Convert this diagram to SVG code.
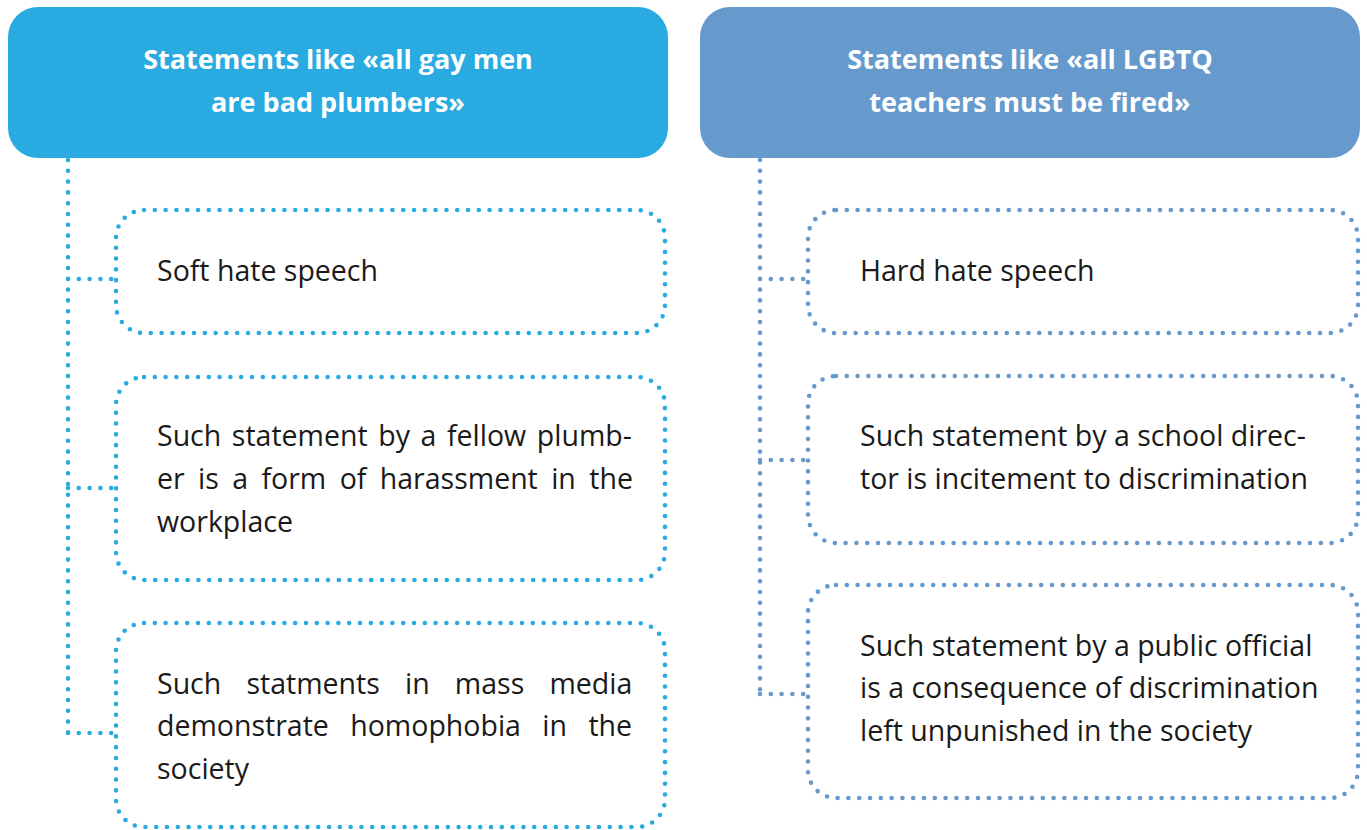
<svg xmlns="http://www.w3.org/2000/svg" width="1367" height="830" viewBox="0 0 1367 830">
<style>
.bg{fill:#ffffff}
.hdr-a{fill:#29ABE2}
.hdr-b{fill:#6699CC}
.htxt{font-family:"Open Sans","Noto Sans","DejaVu Sans",sans-serif;font-weight:700;font-size:27px;fill:#ffffff;text-anchor:middle}
.btxt{font-family:"Open Sans","Noto Sans","DejaVu Sans",sans-serif;font-size:28.5px;fill:#1a1a1a}
.dot{fill:none;stroke-width:4.6;stroke-linecap:round;stroke-dasharray:0 10.8}
.dot-a{stroke:#29ABE2}
.dot-b{stroke:#6699CC}
</style>
<rect class="bg" x="0" y="0" width="1367" height="830"/>

<g id="connectors">
  <path class="dot dot-a" d="M68 160 V733 M68 279 H114 M68 488 H114 M68 733 H114"/>
  <path class="dot dot-b" d="M760 160 V694 M760 279 H806 M760 460 H806 M760 694 H806"/>
</g>

<g id="header-left">
  <rect class="hdr-a" x="8" y="7" width="660" height="151" rx="30" ry="30"/>
  <text class="htxt"><tspan x="338" y="69">Statements like «all gay men</tspan><tspan x="338" y="112">are bad plumbers»</tspan></text>
</g>

<g id="header-right">
  <rect class="hdr-b" x="700" y="7" width="660" height="151" rx="30" ry="30"/>
  <text class="htxt"><tspan x="1030" y="69">Statements like «all LGBTQ</tspan><tspan x="1030" y="112">teachers must be fired»</tspan></text>
</g>

<g id="node-soft">
  <rect class="dot dot-a" x="116" y="210" width="549" height="123" rx="28" ry="28"/>
  <text class="btxt" x="157" y="281">Soft hate speech</text>
</g>

<g id="node-plumber">
  <rect class="dot dot-a" x="116" y="377" width="549" height="203" rx="28" ry="28"/>
  <text class="btxt"><tspan x="157" y="446" word-spacing="3.2">Such statement by a fellow plumb-</tspan><tspan x="157" y="489" word-spacing="6">er is a form of harassment in the</tspan><tspan x="157" y="532">workplace</tspan></text>
</g>

<g id="node-media">
  <rect class="dot dot-a" x="116" y="623" width="549" height="204" rx="28" ry="28"/>
  <text class="btxt"><tspan x="157" y="694" word-spacing="17.8">Such statments in mass media</tspan><tspan x="157" y="736" word-spacing="14">demonstrate homophobia in the</tspan><tspan x="157" y="779">society</tspan></text>
</g>

<g id="node-hard">
  <rect class="dot dot-b" x="808" y="210" width="550" height="123" rx="28" ry="28"/>
  <text class="btxt" x="860" y="281">Hard hate speech</text>
</g>

<g id="node-director">
  <rect class="dot dot-b" x="808" y="376" width="550" height="167" rx="28" ry="28"/>
  <text class="btxt"><tspan x="860" y="446">Such statement by a school direc-</tspan><tspan x="860" y="489">tor is incitement to discrimination</tspan></text>
</g>

<g id="node-official">
  <rect class="dot dot-b" x="808" y="585" width="550" height="213" rx="28" ry="28"/>
  <text class="btxt"><tspan x="860" y="656">Such statement by a public official</tspan><tspan x="860" y="698">is a consequence of discrimination</tspan><tspan x="860" y="741">left unpunished in the society</tspan></text>
</g>
</svg>
